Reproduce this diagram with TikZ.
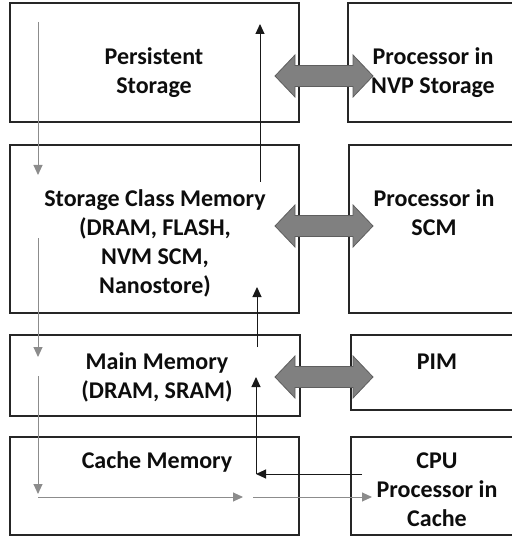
\documentclass[tikz,border=0pt]{standalone}
\usepackage{fontspec}
\setmainfont{Carlito}
\usetikzlibrary{arrows.meta}
\definecolor{arrowgray}{HTML}{8C8C8C}
\definecolor{fatfill}{HTML}{808080}
\definecolor{fatline}{HTML}{5E5E5E}
\tikzset{
  boxline/.style={draw=black!85, line width=1.8pt},
  lbl/.style={font=\fontsize{24pt}{29pt}\selectfont\bfseries, align=center, inner sep=0pt, text=black!95},
  grayarrow/.style={draw=arrowgray, line width=1pt, -{Triangle[length=10pt,width=9pt]}},
  blackarrow/.style={draw=black!90, line width=1pt, -{Triangle[length=10pt,width=9pt]}},
  fatarrow/.style={fill=fatfill, draw=fatline, line width=0.8pt}
}
\newcommand{\fatdouble}[3]{% left tip x, right tip x, center y
  \path[fatarrow] (#1,#3) -- (#1+20,#3-21) -- (#1+20,#3-10.5) -- (#2-20,#3-10.5) -- (#2-20,#3-21)
    -- (#2,#3) -- (#2-20,#3+21) -- (#2-20,#3+10.5) -- (#1+20,#3+10.5) -- (#1+20,#3+21) -- cycle;}
\begin{document}
\begin{tikzpicture}[x=1pt,y=-1pt]
\useasboundingbox (0,0) rectangle (511,537);
% left boxes
\draw[boxline] (10,3) rectangle (299,122);
\draw[boxline] (10,145) rectangle (299,313);
\draw[boxline] (10,335) rectangle (300,416);
\draw[boxline] (10,437) rectangle (299,535);
% right boxes (open to the right edge)
\draw[boxline] (515,3) -- (348,3) -- (348,122) -- (515,122);
\draw[boxline] (515,145) -- (349,145) -- (349,313) -- (515,313);
\draw[boxline] (515,335) -- (351,335) -- (351,410) -- (515,410);
\draw[boxline] (515,437) -- (351,437) -- (351,535) -- (515,535);
% labels
\node[lbl] (ps) at (154,73) {Persistent\\Storage};
\node[lbl] (nvp) at (433,73) {Processor in\\NVP Storage};
\node[lbl] (scm) at (155,243) {Storage Class Memory\\(DRAM, FLASH,\\NVM SCM,\\Nanostore)};
\node[lbl] (pscm) at (434,213) {Processor in\\SCM};
\node[lbl] (mm) at (157,377) {Main Memory\\(DRAM, SRAM)};
\node[lbl] (pim) at (437,362) {PIM};
\node[lbl] (cm) at (157,462) {Cache Memory};
\node[lbl] (cpu) at (437,490) {CPU\\Processor in\\Cache};
% fat double arrows
\fatdouble{275}{373}{76}
\fatdouble{275}{373}{226}
\fatdouble{275}{373}{377}
% connector coordinates
\coordinate (g1a) at (38,22);  \coordinate (g1b) at (38,175);
\coordinate (g2a) at (38,238); \coordinate (g2b) at (38,357);
\coordinate (g3a) at (38,376); \coordinate (g3b) at (38,494);
\coordinate (h1a) at (38,497); \coordinate (h1b) at (243,497);
\coordinate (h2a) at (253,497); \coordinate (h2b) at (372,497);
\coordinate (k1a) at (260,182); \coordinate (k1b) at (260,24);
\coordinate (k2a) at (257,347); \coordinate (k2b) at (257,287);
\coordinate (c0) at (362,474); \coordinate (c1) at (256,474); \coordinate (c2) at (256,377);
% gray connectors
\draw[grayarrow] (g1a) -- (g1b);
\draw[grayarrow] (g2a) -- (g2b);
\draw[grayarrow] (g3a) -- (g3b);
\draw[grayarrow] (h1a) -- (h1b);
\draw[grayarrow] (h2a) -- (h2b);
% black connectors
\draw[blackarrow] (k1a) -- (k1b);
\draw[blackarrow] (k2a) -- (k2b);
\draw[blackarrow] (c0) -- (c1);
\draw[blackarrow] (c1) -- (c2);
\end{tikzpicture}
\end{document}
